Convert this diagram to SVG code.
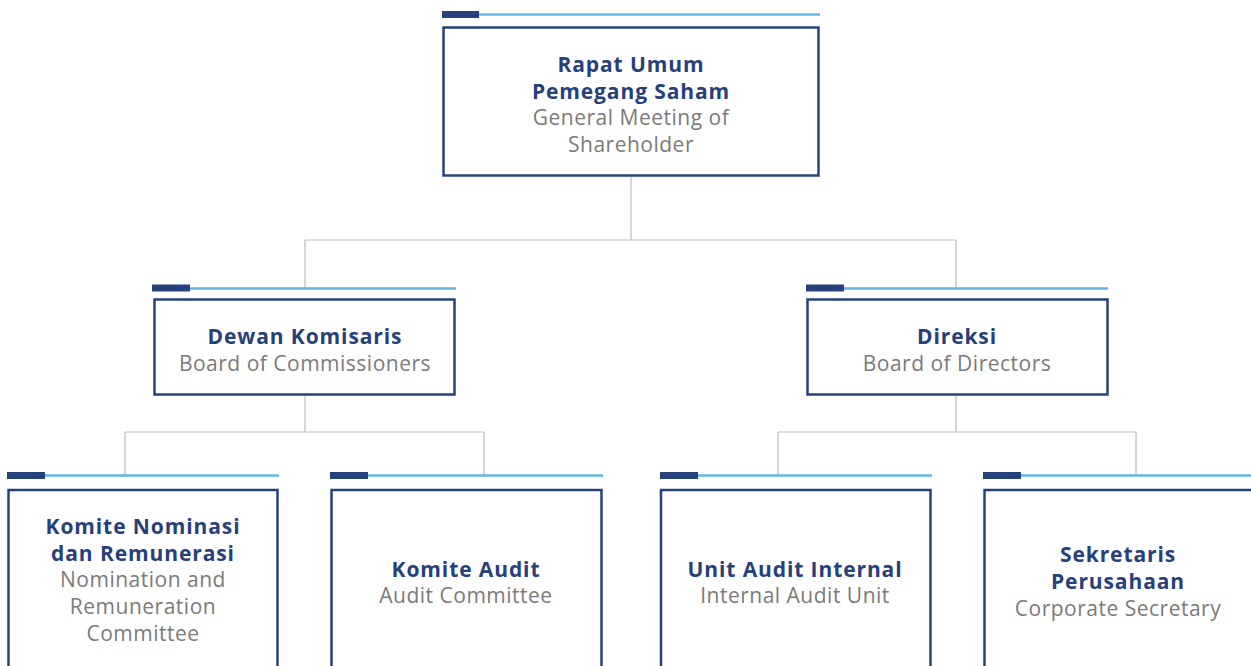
<svg xmlns="http://www.w3.org/2000/svg" width="1251" height="666" viewBox="0 0 1251 666">
<style>
.box{fill:#fff;stroke:#26427c;stroke-width:2.5}
.dk{fill:#26427c}
.lt{stroke:#63b7e3;stroke-width:2.5}
.con{fill:none;stroke:#bdbdbd;stroke-width:1.2}
text{font-family:"Open Sans","Noto Sans","Liberation Sans",sans-serif;font-size:21px;text-anchor:middle}
.b{font-weight:700;fill:#26407a;letter-spacing:0.9px}
.r{fill:#7a7a7a;letter-spacing:0.5px}
</style>
<rect width="1251" height="666" fill="#fff"/>
<g id="connectors">
<path class="con" d="M631,177V240M305,240H956M305,240V288M956,240V288"/>
<path class="con" d="M305,396V432M125,432H484M125,432V475M484,432V475"/>
<path class="con" d="M956,396V432M778,432H1136M778,432V475M1136,432V475"/>
</g>
<g id="rups">
<line class="lt" x1="479" y1="14.5" x2="820" y2="14.5"/>
<rect class="dk" x="442" y="11" width="37" height="7"/>
<rect class="box" x="443.5" y="27.5" width="375" height="148"/>
<text class="b" x="631" y="72">Rapat Umum</text>
<text class="b" x="631" y="99">Pemegang Saham</text>
<text class="r" x="631" y="125">General Meeting of</text>
<text class="r" x="631" y="152">Shareholder</text>
</g>
<g id="dekom">
<line class="lt" x1="190" y1="288.5" x2="456" y2="288.5"/>
<rect class="dk" x="152" y="284.5" width="38" height="7"/>
<rect class="box" x="154.5" y="299.5" width="300" height="95"/>
<text class="b" x="305" y="344">Dewan Komisaris</text>
<text class="r" x="305" y="371">Board of Commissioners</text>
</g>
<g id="direksi">
<line class="lt" x1="844" y1="288.5" x2="1108" y2="288.5"/>
<rect class="dk" x="806" y="284.5" width="38" height="7"/>
<rect class="box" x="807.5" y="299.5" width="300" height="95"/>
<text class="b" x="957" y="344">Direksi</text>
<text class="r" x="957" y="371">Board of Directors</text>
</g>
<g id="knr">
<line class="lt" x1="45" y1="475.5" x2="279" y2="475.5"/>
<rect class="dk" x="7" y="472" width="38" height="7"/>
<rect class="box" x="8.5" y="490" width="269" height="200"/>
<text class="b" x="143" y="534">Komite Nominasi</text>
<text class="b" x="143" y="561">dan Remunerasi</text>
<text class="r" x="143" y="587">Nomination and</text>
<text class="r" x="143" y="614">Remuneration</text>
<text class="r" x="143" y="641">Committee</text>
</g>
<g id="audit">
<line class="lt" x1="368" y1="475.5" x2="603" y2="475.5"/>
<rect class="dk" x="330" y="472" width="38" height="7"/>
<rect class="box" x="331.5" y="490" width="270" height="200"/>
<text class="b" x="466" y="577">Komite Audit</text>
<text class="r" x="466" y="603">Audit Committee</text>
</g>
<g id="sai">
<line class="lt" x1="698" y1="475.5" x2="932" y2="475.5"/>
<rect class="dk" x="660" y="472" width="38" height="7"/>
<rect class="box" x="661" y="490" width="269.5" height="200"/>
<text class="b" x="795" y="577">Unit Audit Internal</text>
<text class="r" x="795" y="603">Internal Audit Unit</text>
</g>
<g id="corsec">
<line class="lt" x1="1021" y1="475.5" x2="1251" y2="475.5"/>
<rect class="dk" x="983" y="472" width="38" height="7"/>
<rect class="box" x="984.5" y="490" width="300" height="200"/>
<text class="b" x="1118" y="562">Sekretaris</text>
<text class="b" x="1118" y="589">Perusahaan</text>
<text class="r" x="1118" y="616">Corporate Secretary</text>
</g>
</svg>
